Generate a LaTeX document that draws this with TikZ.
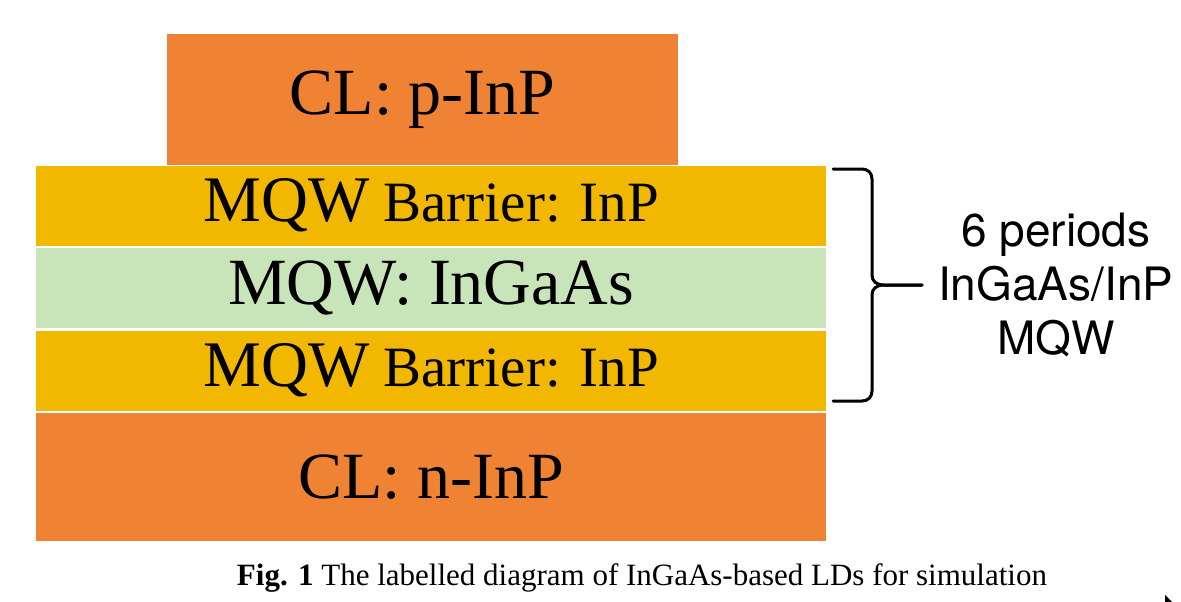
\documentclass[tikz,border=0pt]{standalone}
\usepackage{fontspec}
\setmainfont{Liberation Serif}
\newfontfamily\headfont{TeX Gyre Heros}
\usepackage{xcolor}
\usepackage{tikz}
\usetikzlibrary{positioning}
\definecolor{clad}{HTML}{EF8233}
\definecolor{barr}{HTML}{F2B800}
\definecolor{well}{HTML}{C8E4B9}
\tikzset{
  layer/.style={rectangle, inner sep=0pt, minimum width=790pt, minimum height=80pt, anchor=north west},
  cl/.style={layer, fill=clad, font=\fontsize{66}{70}\selectfont},
  bar/.style={layer, fill=barr},
  qw/.style={layer, fill=well, font=\fontsize{66}{70}\selectfont},
  brace/.style={draw=black, line width=3pt, line cap=round, line join=round},
  periods/.style={align=center, inner xsep=16pt, font=\headfont\fontsize{46}{54}\selectfont},
  figcap/.style={font=\fontsize{31}{34}\selectfont},
}
\newcommand{\barrtext}{{\fontsize{65}{70}\selectfont MQW}{\fontsize{57}{70}\selectfont\ Barrier: InP}}

\begin{document}
\begin{tikzpicture}[x=1pt,y=-1pt]
  \useasboundingbox[fill=white] (0,0) rectangle (1181,602);
  % layer stack
  \node[bar] (barA) at (36,165.5) {\barrtext};
  \node[qw, below=2pt of barA] (qwA) {MQW: InGaAs};
  \node[bar, below=2pt of qwA] (barB) {\barrtext};
  \node[cl, minimum height=128pt, below=2pt of barB] (ncl) {CL: n-InP};
  \node[cl, minimum width=511pt, minimum height=131pt, anchor=south west] (pcl) at (167,165.5) {CL: p-InP};
  % brace and period label
  \coordinate (bt) at (833,169);
  \coordinate (bb) at (833,401);
  \coordinate (tip) at (922,285);
  \node[periods, anchor=west] (per) at (tip) {6 periods\\InGaAs/InP\\MQW};
  \draw[brace] (bt) -- (862,169) .. controls (868,169) and (872,173) .. (872,179)
    -- (872,275) .. controls (872,281) and (876,285) .. (884,285) -- (per.west);
  \draw[brace] (per.west) -- (884,285) .. controls (876,285) and (872,289) .. (872,295)
    -- (872,391) .. controls (872,397) and (868,401) .. (862,401) -- (bb);
  % caption
  \node[figcap, anchor=base] (capt) at (642,585) {\textbf{Fig. 1} The labelled diagram of InGaAs-based LDs for simulation};
  \fill (1165,595) -- (1172,602) -- (1165,602) -- cycle;
\end{tikzpicture}
\end{document}
